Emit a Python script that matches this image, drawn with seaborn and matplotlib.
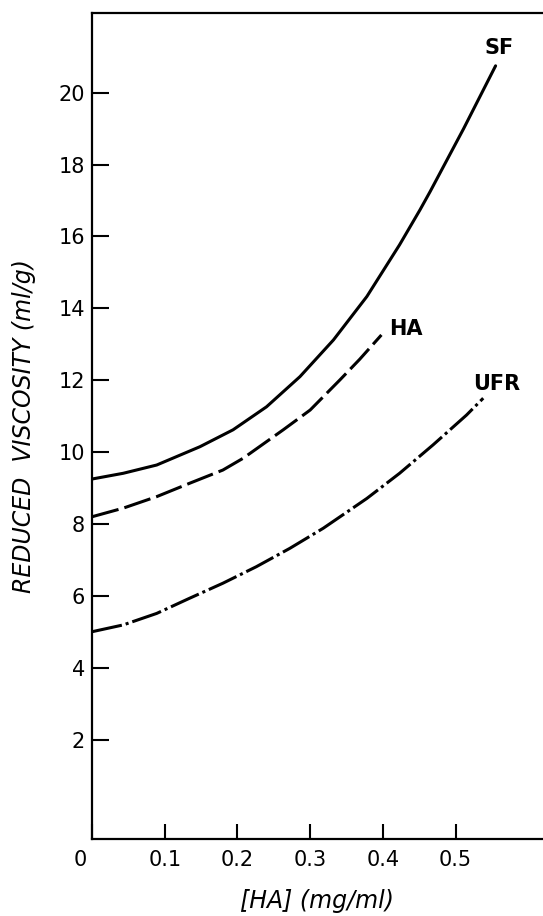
import pandas as pd
import seaborn as sns
import matplotlib
matplotlib.use("Agg")
import matplotlib.pyplot as plt
import matplotlib.transforms as mtransforms

# values
sf_x = [0.0, 0.043, 0.089, 0.1485, 0.194, 0.240, 0.286, 0.332, 0.378, 0.423, 0.451, 0.465, 0.511, 0.555]
sf_y = [9.25, 9.41, 9.64, 10.15, 10.62, 11.26, 12.10, 13.12, 14.33, 15.77, 16.74, 17.25, 19.00, 20.75]

ha_x = [0.0, 0.043, 0.089, 0.134, 0.180, 0.208, 0.263, 0.300, 0.341, 0.368, 0.398]
ha_y = [8.20, 8.44, 8.76, 9.13, 9.50, 9.83, 10.62, 11.17, 12.01, 12.58, 13.26]

ufr_x = [0.0, 0.043, 0.089, 0.134, 0.180, 0.226, 0.272, 0.318, 0.378, 0.423, 0.469, 0.515, 0.538]
ufr_y = [5.00, 5.19, 5.51, 5.93, 6.35, 6.81, 7.32, 7.88, 8.71, 9.41, 10.20, 11.03, 11.50]

curve_names = ["SF", "HA", "UFR"]
label_pos = {"SF": (0.560, 21.26), "HA": (0.432, 13.43), "UFR": (0.556, 11.90)}

x_ticks = [0, 0.1, 0.2, 0.3, 0.4, 0.5]
x_tick_labels = ["0", "0.1", "0.2", "0.3", "0.4", "0.5"]
y_ticks = [2, 4, 6, 8, 10, 12, 14, 16, 18, 20]

df = pd.concat([
    pd.DataFrame({"conc": sf_x, "visc": sf_y, "fluid": "SF"}),
    pd.DataFrame({"conc": ha_x, "visc": ha_y, "fluid": "HA"}),
    pd.DataFrame({"conc": ufr_x, "visc": ufr_y, "fluid": "UFR"}),
])

sns.set_style("ticks")
plt.rcParams["font.family"] = ["DejaVu Sans"]
plt.rcParams["text.color"] = "black"
plt.rcParams["axes.labelcolor"] = "black"

fig = plt.figure(figsize=(5.43, 9.16), dpi=100)
ax = fig.add_axes([0.1694, 0.0840, 0.8306, 0.9018])

sns.lineplot(data=df, x="conc", y="visc", style="fluid", style_order=curve_names,
             dashes={"SF": "", "HA": (9, 2), "UFR": (10, 1.3, 1, 1.3)},
             color="black", linewidth=2.2, sort=True, estimator=None,
             legend=False, ax=ax)

for name in curve_names:
    lx, ly = label_pos[name]
    ax.text(lx, ly, name, ha="center", va="center", fontsize=15,
            fontweight="bold", color="black")

ax.set_xlim(0, 0.6202)
ax.set_ylim(-0.77, 22.22)
ax.set_xticks(x_ticks)
ax.set_xticklabels(x_tick_labels)
ax.set_yticks(y_ticks)
ax.tick_params(axis="both", direction="in", width=1.5, labelsize=15,
               colors="black")
ax.tick_params(axis="y", length=12, pad=5)
ax.tick_params(axis="x", length=11, pad=8)

# the "0" sits a little left of the corner in the original
zero_lbl = ax.get_xticklabels()[0]
zero_lbl.set_horizontalalignment("right")
zero_lbl.set_transform(zero_lbl.get_transform() +
                       mtransforms.ScaledTranslation(-5 / 100, 0, fig.dpi_scale_trans))

for side in ["left", "top", "bottom"]:
    ax.spines[side].set_linewidth(1.6)
    ax.spines[side].set_color("black")
ax.spines["right"].set_visible(False)

ax.set_xlabel("[HA] (mg/ml)", fontsize=17, style="italic")
ax.set_ylabel("REDUCED  VISCOSITY (ml/g)", fontsize=17, style="italic")
ax.xaxis.set_label_coords(0.5, -0.061)
ax.yaxis.set_label_coords(-0.125, 0.50)

fig.savefig("out.png", dpi=100)
